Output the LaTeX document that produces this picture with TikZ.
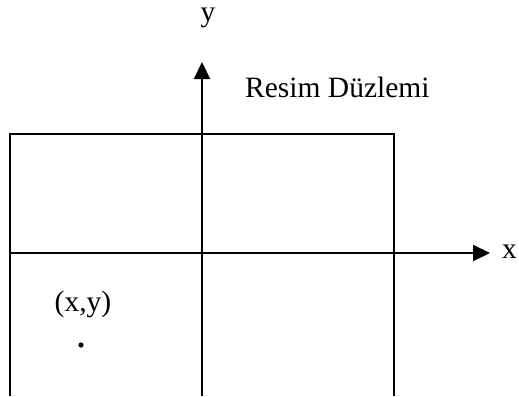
\documentclass[tikz,border=0pt]{standalone}
\usepackage{fontspec}
\setmainfont{Liberation Serif}
\usetikzlibrary{arrows.meta}
\begin{document}
\begin{tikzpicture}[x=1pt,y=-1pt,
  axis/.style={line width=2.2pt,-{Triangle[length=17pt,width=16pt]}},
  frame/.style={line width=2.2pt},
  lbl/.style={inner sep=0pt,font=\fontsize{29.5}{32}\selectfont}]
\useasboundingbox (0,0) rectangle (519,396);
\coordinate (bl) at (10,396);
\coordinate (tl) at (10,134);
\coordinate (tr) at (394,134);
\coordinate (br) at (394,396);
\coordinate (vb) at (202,396);
\coordinate (vt) at (202,62);
\coordinate (hl) at (9,253);
\coordinate (hr) at (490,253);
\draw[frame] (bl) -- (tl) -- (tr) -- (br);
\draw[axis] (vb) -- (vt);
\draw[axis] (hl) -- (hr);
\fill (81,345) circle (2.6pt) coordinate (pt);
\node[lbl,anchor=base] (ylab) at (208,22) {y};
\node[lbl,anchor=base west] (xlab) at (502,258) {x};
\node[lbl,anchor=base west] (title) at (245,97) {Resim Düzlemi};
\node[lbl,anchor=base] (ptlab) at (83,311) {(x,y)};
\end{tikzpicture}
\end{document}
